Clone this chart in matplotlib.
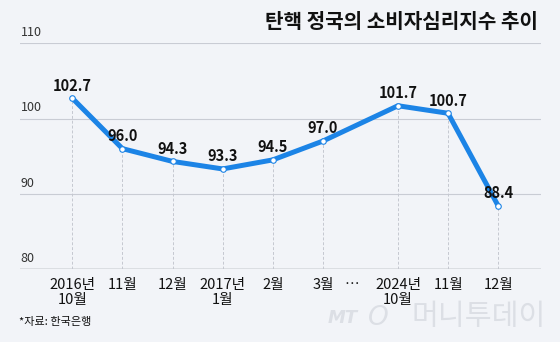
import matplotlib
matplotlib.use("Agg")
import matplotlib.pyplot as plt

# data
months = ["2016년\n10월", "11월", "12월", "2017년\n1월", "2월", "3월",
          "2024년\n10월", "11월", "12월"]
pos = [0, 1, 2, 3, 4, 5, 6.5, 7.5, 8.5]
csi = [102.7, 96.0, 94.3, 93.3, 94.5, 97.0, 101.7, 100.7, 88.4]
yticks = [80, 90, 100, 110]

BG = "#f2f4f8"
BLUE = "#1c84e6"
NARROW = ["Liberation Sans Narrow", "Noto Sans CJK KR", "DejaVu Sans"]
KR = ["Noto Sans CJK KR", "DejaVu Sans"]
plt.rcParams["font.family"] = NARROW

fig = plt.figure(figsize=(5.6, 3.42), dpi=100, facecolor=BG)
ax = fig.add_axes([20 / 560, 1 - 269 / 342, 521 / 560, 225.7 / 342])
ax.set_facecolor(BG)
xmin, xmax = -1.044, 9.355
ax.set_xlim(xmin, xmax)
ax.set_ylim(80, 110)

for s in ax.spines.values():
    s.set_visible(False)

# horizontal grid
for v in yticks:
    ax.axhline(v, color="#7f848c" if v == 80 else "#c9ccd4", lw=1.0 if v == 80 else 0.8, zorder=1)
    ax.annotate(str(v), (xmin, v), xytext=(0.5, 3), textcoords="offset points",
                ha="left", va="bottom", fontsize=9, color="#333333")

# vertical dashed drop lines
for x, y in zip(pos, csi):
    ax.plot([x, x], [80, y], color="#c5c8d0", lw=0.7, ls=(0, (3, 2)), zorder=1)

ax.plot(pos, csi, color=BLUE, lw=3.6, solid_capstyle="round", zorder=3)
ax.plot(pos, csi, ls="none", marker="o", ms=4.0, mfc="white", mec=BLUE, mew=0.8, zorder=4)

for x, y in zip(pos, csi):
    ax.annotate(f"{y:.1f}", (x, y), xytext=(0, 5.5), textcoords="offset points",
                ha="center", va="baseline", fontsize=10.5, fontweight="bold", color="#111111", zorder=5)

ax.set_xticks(pos + [5.57])
ax.set_xticklabels(months + ["…"], fontsize=10.5, color="#111111", linespacing=1.1)
ax.tick_params(axis="x", length=0, pad=6.5)
ax.set_yticks([])

fig.text(538 / 560, 1 - 22 / 342, "탄핵 정국의 소비자심리지수 추이", ha="right", va="center",
         fontsize=14.5, fontweight="bold", family=KR, color="#111111")
fig.text(19 / 560, 1 - 321.5 / 342, "*자료: 한국은행", ha="left", va="center",
         fontsize=8, family=KR, color="#111111")

# watermark
fig.text(328 / 560, 1 - 318 / 342, "MT", ha="left", va="center", fontsize=13,
         style="italic", fontweight="bold", color="#dcdfe5", family=["DejaVu Sans"])
fig.text(378 / 560, 1 - 318 / 342, "O", ha="center", va="center", fontsize=19,
         style="italic", color="#dcdfe5", family=["DejaVu Sans"])
fig.text(546 / 560, 1 - 317 / 342, "머니투데이", ha="right", va="center", fontsize=21,
         fontweight="light", color="#dcdfe5", family=KR)

fig.savefig("out.png", dpi=100, facecolor=BG)
